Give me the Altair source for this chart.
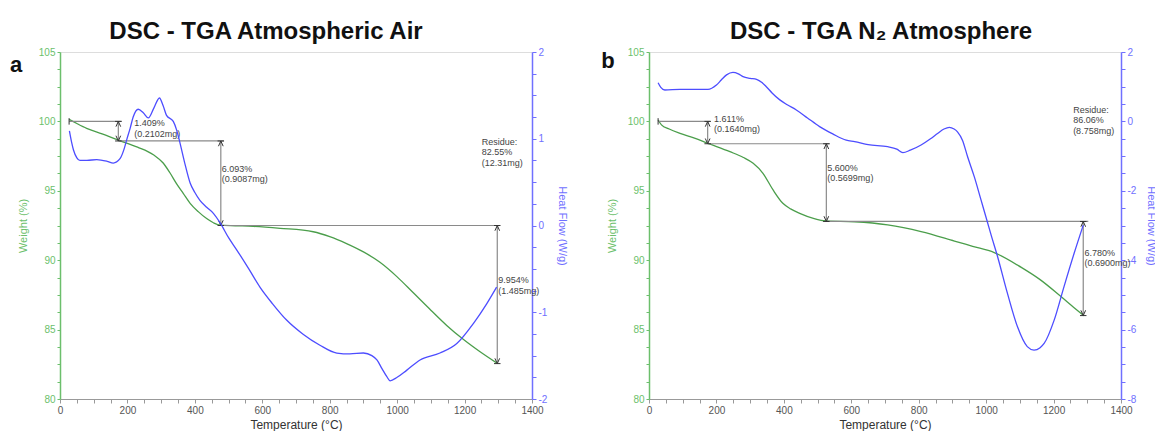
import altair as alt
import pandas as pd

# ---------------- data ----------------
# Panel a: Atmospheric air
air_tga_T = [27, 50, 79, 125, 173, 230, 277, 306, 326, 346, 366, 386, 410, 435, 455, 475, 520, 573, 653, 751, 800, 850, 900, 949, 1000, 1048, 1100, 1147, 1196, 1246, 1295]
air_tga_W = [100.15, 99.85, 99.5, 99.1, 98.65, 98.15, 97.6, 97.0, 96.3, 95.5, 94.8, 94.1, 93.5, 93.0, 92.7, 92.52, 92.48, 92.44, 92.3, 92.05, 91.7, 91.2, 90.6, 89.85, 88.8, 87.65, 86.4, 85.3, 84.3, 83.4, 82.6]
air_dsc_T = [28, 35, 40, 50, 59, 80, 109, 140, 158, 178, 190, 198, 208, 217, 232, 247, 262, 278, 295, 306, 316, 336, 346, 356, 370, 386, 400, 415, 435, 455, 475, 500, 524, 560, 593, 630, 672, 720, 771, 821, 860, 900, 925, 940, 955, 969, 979, 1000, 1028, 1068, 1127, 1177, 1226, 1266, 1295]
air_dsc_H = [1.09, 0.95, 0.87, 0.78, 0.75, 0.75, 0.76, 0.74, 0.72, 0.77, 0.88, 0.99, 1.12, 1.25, 1.34, 1.30, 1.24, 1.35, 1.47, 1.38, 1.27, 1.20, 1.10, 0.95, 0.72, 0.49, 0.38, 0.29, 0.21, 0.14, 0.03, -0.14, -0.28, -0.50, -0.71, -0.90, -1.09, -1.25, -1.38, -1.47, -1.48, -1.47, -1.50, -1.55, -1.65, -1.74, -1.79, -1.75, -1.67, -1.55, -1.47, -1.36, -1.13, -0.90, -0.71]

# annotation geometry (temperature / weight values)
air_seg_T = [27, 173, 477, 173, 477, 1297]
air_seg_T2 = [183, 486, 1305, 173, 477, 1297]
air_seg_W = [100.0, 98.59, 92.50, 100.0, 98.59, 92.50]
air_seg_W2 = [100.0, 98.59, 92.50, 98.59, 92.50, 82.55]
air_arrow_T = [173, 477, 1297]
air_arrow_top = [100.0, 98.59, 92.50]
air_arrow_bot = [98.59, 92.50, 82.55]
air_start_T = [27]
air_start_W = [100.0]
air_text = ["1.409%", "(0.2102mg)", "6.093%", "(0.9087mg)", "Residue:", "82.55%", "(12.31mg)", "9.954%", "(1.485mg)"]
air_text_T = [220, 220, 480, 480, 1251, 1251, 1251, 1300, 1300]
air_text_W = [99.88, 99.07, 96.57, 95.85, 98.49, 97.77, 97.02, 88.57, 87.80]

# Panel b: N2 atmosphere
n2_tga_T = [27, 37, 60, 92, 135, 175, 240, 280, 309, 338, 368, 397, 420, 447, 490, 526, 610, 708, 807, 906, 960, 1024, 1103, 1160, 1221, 1260, 1290]
n2_tga_W = [100.1, 99.75, 99.45, 99.14, 98.8, 98.42, 97.82, 97.4, 96.98, 96.26, 95.06, 94.1, 93.7, 93.38, 93.0, 92.83, 92.77, 92.54, 92.06, 91.38, 91.0, 90.55, 89.5, 88.6, 87.4, 86.6, 86.0]
n2_dsc_T = [27, 35, 47, 92, 175, 200, 215, 230, 249, 265, 279, 300, 319, 335, 348, 365, 388, 410, 437, 470, 506, 545, 585, 610, 650, 708, 735, 753, 775, 807, 835, 857, 875, 891, 905, 915, 930, 945, 965, 985, 1002, 1014, 1034, 1063, 1093, 1122, 1142, 1160, 1172, 1202, 1231, 1261, 1288]
n2_dsc_H = [1.115, 0.98, 0.905, 0.925, 0.925, 1.05, 1.20, 1.34, 1.41, 1.37, 1.29, 1.24, 1.21, 1.12, 1.0, 0.82, 0.62, 0.48, 0.33, 0.10, -0.15, -0.36, -0.54, -0.58, -0.67, -0.73, -0.80, -0.90, -0.83, -0.68, -0.50, -0.34, -0.22, -0.17, -0.22, -0.30, -0.55, -1.02, -1.60, -2.27, -2.84, -3.25, -3.9, -4.95, -5.92, -6.49, -6.59, -6.52, -6.40, -5.72, -4.76, -3.80, -2.99]

n2_seg_T = [27, 174, 526, 174, 526, 1288]
n2_seg_T2 = [182, 536, 1303, 174, 526, 1288]
n2_seg_W = [100.0, 98.39, 92.79, 100.0, 98.39, 92.79]
n2_seg_W2 = [100.0, 98.39, 92.79, 98.39, 92.79, 86.01]
n2_arrow_T = [174, 526, 1288]
n2_arrow_top = [100.0, 98.39, 92.79]
n2_arrow_bot = [98.39, 92.79, 86.01]
n2_start_T = [27]
n2_start_W = [100.0]
n2_text = ["1.611%", "(0.1640mg)", "5.600%", "(0.5699mg)", "Residue:", "86.06%", "(8.758mg)", "6.780%", "(0.6900mg)"]
n2_text_T = [193, 193, 529, 529, 1258, 1258, 1258, 1292, 1292]
n2_text_W = [100.17, 99.45, 96.66, 95.94, 100.82, 100.1, 99.33, 90.50, 89.78]

x_ticks = list(range(0, 1401, 50))
w_ticks = [80 + 1.25 * i for i in range(21)]
h_ticks_air = [-2 + 0.25 * i for i in range(17)]
h_ticks_n2 = [-8 + 0.5 * i for i in range(21)]

# ---------------- styling ----------------
FONT = "Liberation Sans"
GREEN_LINE = "#4b9e4b"
GREEN_AX = "#6cbf6c"
BLUE_LINE = "#4d4dff"
BLUE_AX = "#7070ff"
GREY = "#8a8a8a"
DARK = "#333333"
W_PX = 472
H_PX = 347

UP = "M-0.45,1L0,0L0.45,1"
DOWN = "M-0.45,-1L0,0L0.45,-1"
HTICK = "M-1,0L1,0"
VTICK = "M0,-1L0,1"


def x_enc():
    return alt.X(
        "T:Q",
        scale=alt.Scale(domain=[0, 1400], nice=False, zero=False),
        axis=alt.Axis(
            values=x_ticks,
            labelExpr="datum.value % 200 == 0 ? '' + datum.value : ''",
            title="Temperature (°C)",
            titleFont=FONT, titleFontSize=12, titleFontWeight="normal", titleColor="#333333",
            titlePadding=4,
            labelFont=FONT, labelFontSize=10, labelColor="#555555",
            labelOverlap=False, labelFlush=False, labelPadding=2,
            domainColor="#999999", tickColor="#999999", tickSize=4, grid=False,
        ),
    )


def w_enc():
    return alt.Y(
        "W:Q",
        scale=alt.Scale(domain=[80, 105], nice=False, zero=False),
        axis=alt.Axis(
            values=w_ticks,
            labelExpr="datum.value % 5 == 0 ? '' + datum.value : ''",
            title="Weight (%)",
            titleFont=FONT, titleFontSize=11, titleFontWeight="normal", titleColor=GREEN_AX,
            titlePadding=10,
            labelFont=FONT, labelFontSize=10, labelColor=GREEN_AX,
            labelOverlap=False, labelFlush=False, labelPadding=2,
            domainColor=GREEN_AX, domainWidth=1.5, tickColor=GREEN_AX, tickSize=3, grid=False,
        ),
    )


def h_enc(domain, ticks, step):
    return alt.Y(
        "H:Q",
        scale=alt.Scale(domain=domain, nice=False, zero=False),
        axis=alt.Axis(
            orient="right",
            values=ticks,
            labelExpr="datum.value % " + str(step) + " == 0 ? '' + datum.value : ''",
            title="Heat Flow (W/g)",
            titleFont=FONT, titleFontSize=11, titleFontWeight="normal", titleColor=BLUE_AX,
            titlePadding=10,
            labelFont=FONT, labelFontSize=10, labelColor=BLUE_AX,
            labelOverlap=False, labelFlush=False, labelPadding=2,
            domainColor=BLUE_AX, domainWidth=1.5, tickColor=BLUE_AX, tickSize=4, grid=False,
        ),
    )


def panel(title, dx, letter, lx, ly, tgaT, tgaW, dscT, dscH, segT, segT2, segW, segW2,
          arT, arTop, arBot, stT, stW, txt, txtT, txtW, hdom, hticks, hstep):
    tga = alt.Chart(pd.DataFrame({"T": tgaT, "W": tgaW})).mark_line(
        color=GREEN_LINE, strokeWidth=1.3, interpolate="monotone"
    ).encode(x=x_enc(), y=w_enc())

    segs = alt.Chart(pd.DataFrame({"T": segT, "T2": segT2, "W": segW, "W2": segW2})).mark_rule(
        color=GREY, strokeWidth=1.2
    ).encode(x=x_enc(), x2="T2:Q", y=w_enc(), y2="W2:Q")

    up = alt.Chart(pd.DataFrame({"T": arT, "W": arTop})).mark_point(
        shape=UP, size=110, filled=False, stroke=DARK, strokeWidth=1, opacity=1
    ).encode(x=x_enc(), y=w_enc())
    down = alt.Chart(pd.DataFrame({"T": arT, "W": arBot})).mark_point(
        shape=DOWN, size=110, filled=False, stroke=DARK, strokeWidth=1, opacity=1
    ).encode(x=x_enc(), y=w_enc())
    ends = alt.Chart(pd.DataFrame({"T": arT + arT, "W": arTop + arBot})).mark_point(
        shape=HTICK, size=42, filled=False, stroke=DARK, strokeWidth=1, opacity=1
    ).encode(x=x_enc(), y=w_enc())
    start = alt.Chart(pd.DataFrame({"T": stT, "W": stW})).mark_point(
        shape=VTICK, size=42, filled=False, stroke=DARK, strokeWidth=1, opacity=1
    ).encode(x=x_enc(), y=w_enc())

    labels = alt.Chart(pd.DataFrame({"T": txtT, "W": txtW, "txt": txt})).mark_text(
        align="left", baseline="middle", font=FONT, fontSize=9, color="#444444"
    ).encode(x=x_enc(), y=w_enc(), text="txt:N")

    weight_layer = alt.layer(tga, segs, up, down, ends, start, labels)

    dsc = alt.Chart(pd.DataFrame({"T": dscT, "H": dscH})).mark_line(
        color=BLUE_LINE, strokeWidth=1.3, interpolate="monotone"
    ).encode(x=x_enc(), y=h_enc(hdom, hticks, hstep))

    let = alt.Chart(pd.DataFrame({"l": [letter]})).mark_text(
        font=FONT, fontSize=22, fontWeight="bold", color="#111111", align="center", baseline="middle"
    ).encode(text="l:N", x=alt.value(lx), y=alt.value(ly))

    return alt.layer(weight_layer, dsc, let).resolve_scale(y="independent").properties(
        width=W_PX, height=H_PX,
        title=alt.TitleParams(
            title, font=FONT, fontSize=24, fontWeight="bold", color="#111111",
            anchor="middle", dx=dx, offset=-16, baseline="alphabetic",
        ),
    )


left = panel("DSC - TGA Atmospheric Air", -30, "a", -44, 13,
             air_tga_T, air_tga_W, air_dsc_T, air_dsc_H,
             air_seg_T, air_seg_T2, air_seg_W, air_seg_W2,
             air_arrow_T, air_arrow_top, air_arrow_bot, air_start_T, air_start_W,
             air_text, air_text_T, air_text_W, [-2, 2], h_ticks_air, 1)

right = panel("DSC - TGA N₂ Atmosphere", -4, "b", -41, 9,
              n2_tga_T, n2_tga_W, n2_dsc_T, n2_dsc_H,
              n2_seg_T, n2_seg_T2, n2_seg_W, n2_seg_W2,
              n2_arrow_T, n2_arrow_top, n2_arrow_bot, n2_start_T, n2_start_W,
              n2_text, n2_text_T, n2_text_W, [-8, 2], h_ticks_n2, 2)

chart = alt.hconcat(left, right, spacing=117, bounds="flush").properties(
    autosize=alt.AutoSizeParams(type="none"),
    padding={"left": 60, "top": 52, "right": 1095, "bottom": 379},
).configure_view(stroke="#999999", strokeWidth=1.5).configure(background="white")

chart.save("out.html", embed_options={"renderer": "svg", "actions": False})
